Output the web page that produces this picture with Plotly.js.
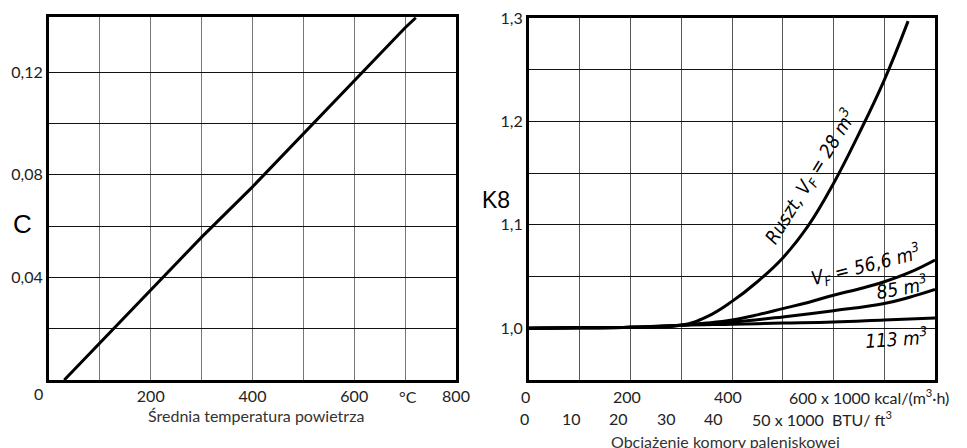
<!DOCTYPE html>
<html><head><meta charset="utf-8">
<script src="https://cdn.plot.ly/plotly-3.0.1.min.js"></script>
<style>html,body{margin:0;padding:0;background:#fff}#chart{width:967px;height:448px}</style>
</head><body><div id="chart"></div>
<script>
// ---- Left chart: C vs mean air temperature ----
const tempC = [30, 100, 200, 300, 400, 500, 600, 700, 721];
const coefC = [0, 0.0144, 0.0353, 0.0557, 0.0753, 0.0961, 0.1169, 0.1373, 0.1412];
const leftXTicks = [100, 200, 300, 400, 500, 600, 700, 800];
const leftXLabels = ['', '200', '', '400', '', '600', '', '800'];
const leftYTicks = [0.02, 0.04, 0.06, 0.08, 0.10, 0.12];
const leftYLabels = ['', '0,04', '', '0,08', '', '0,12'];

// ---- Right chart: K8 vs furnace load ----
const rusztX = [0, 100, 200, 300, 350, 400, 450, 500, 550, 600, 650, 700, 747];
const rusztY = [1.0, 1.0005, 1.001, 1.003, 1.011, 1.026, 1.045, 1.068, 1.099, 1.140, 1.188, 1.240, 1.297];
const v566X = [0, 100, 200, 300, 350, 400, 450, 500, 550, 600, 650, 700, 750, 800];
const v566Y = [1.0, 1.0005, 1.001, 1.003, 1.005, 1.008, 1.013, 1.019, 1.025, 1.032, 1.038, 1.045, 1.054, 1.066];
const v85X = [0, 100, 200, 300, 400, 500, 600, 700, 750, 800];
const v85Y = [1.0, 1.0005, 1.001, 1.003, 1.006, 1.011, 1.017, 1.024, 1.030, 1.0375];
const v113X = [0, 100, 200, 300, 400, 500, 600, 700, 800];
const v113Y = [1.0, 1.0005, 1.001, 1.003, 1.004, 1.005, 1.006, 1.008, 1.010];
const rightXTicks = [0, 100, 200, 300, 400, 500, 600, 700, 800];
const rightYTicks = [1.0, 1.05, 1.1, 1.15, 1.2, 1.25, 1.3];
const rightYLabels = ['1,0', '', '1,1', '', '1,2', '', '1,3'];
const kcalTickVals = [0, 200, 400, 600];
const kcalTickText = ['0', '200', '400', '600 x 1000 kcal/(m<sup>3</sup>·h)'];
const btuTickVals = [0, 10, 20, 30, 40, 50];
const btuTickText = ['0', '10', '20', '30', '40', '50 x 1000  BTU/ ft<sup>3</sup>'];
const curveLabels = ['Ruszt, V<sub>F</sub> = 28 m<sup>3</sup>', 'V<sub>F</sub> = 56,6 m<sup>3</sup>', '85 m<sup>3</sup>', '113 m<sup>3</sup>'];
const curveLabelX = [554, 664, 733, 723];
const curveLabelY = [1.146, 1.061, 1.040, 0.991];

const W = 967, PT = 17, PB = 380, PH = PB - PT;
const px = x => x / W;
const py = y => (PB - y) / PH;

const tickFont = {family: 'Lato, "Open Sans", sans-serif', size: 16, color: '#222'};
const lineStyle = {color: '#000', width: 3, shape: 'spline', smoothing: 1.2};

const traces = [
  {x: tempC, y: coefC, xaxis: 'x', yaxis: 'y', mode: 'lines', line: {color: '#000', width: 3}, hoverinfo: 'skip'},
  {x: rusztX, y: rusztY, xaxis: 'x2', yaxis: 'y2', mode: 'lines', line: lineStyle, hoverinfo: 'skip'},
  {x: v566X, y: v566Y, xaxis: 'x2', yaxis: 'y2', mode: 'lines', line: lineStyle, hoverinfo: 'skip'},
  {x: v85X, y: v85Y, xaxis: 'x2', yaxis: 'y2', mode: 'lines', line: lineStyle, hoverinfo: 'skip'},
  {x: v113X, y: v113Y, xaxis: 'x2', yaxis: 'y2', mode: 'lines', line: lineStyle, hoverinfo: 'skip'}
];

const axisBase = {
  showline: true, mirror: true, linecolor: '#000', linewidth: 3,
  showgrid: true, gridwidth: 1, zeroline: false, ticks: '',
  tickfont: tickFont, fixedrange: true, tickmode: 'array'
};

const annotations = [];
// left axis labels
annotations.push({xref: 'x', yref: 'paper', x: 0, y: py(393), text: '0', showarrow: false, xshift: -11, font: tickFont, xanchor: 'center', yanchor: 'middle'});
annotations.push({xref: 'x', yref: 'paper', x: 705, y: py(397), text: '°C', showarrow: false, font: tickFont, xanchor: 'center', yanchor: 'middle'});
annotations.push({xref: 'paper', yref: 'paper', x: px(256), y: py(415), text: 'Średnia temperatura powietrza', showarrow: false, font: {family: tickFont.family, size: 16, color: '#333'}, xanchor: 'center', yanchor: 'middle'});
annotations.push({xref: 'paper', yref: 'paper', x: px(22), y: py(224), text: 'C', showarrow: false, font: {family: '"Liberation Sans", Arial, sans-serif', size: 26, color: '#000'}, xanchor: 'center', yanchor: 'middle'});
annotations.push({xref: 'paper', yref: 'paper', x: px(496), y: py(200), text: 'K8', showarrow: false, font: {family: '"Liberation Sans", Arial, sans-serif', size: 23, color: '#000'}, xanchor: 'center', yanchor: 'middle'});
// right x labels (kcal row)
kcalTickVals.forEach((v, i) => {
  const last = i === kcalTickVals.length - 1;
  annotations.push({xref: 'x2', yref: 'paper', x: v, y: py(396), text: kcalTickText[i], showarrow: false,
    font: tickFont, xanchor: last ? 'left' : 'center', yanchor: 'middle', xshift: last ? -47 : -4});
});
// right x labels (BTU row, on its own hidden scale)
btuTickVals.forEach((v, i) => {
  const last = i === btuTickVals.length - 1;
  annotations.push({xref: 'x3', yref: 'paper', x: v, y: py(418), text: btuTickText[i], showarrow: false,
    font: tickFont, xanchor: last ? 'left' : 'center', yanchor: 'middle', xshift: last ? -16 : -5});
});
annotations.push({xref: 'paper', yref: 'paper', x: px(725), y: py(430), text: 'Obciążenie komory paleniskowej', showarrow: false, font: {family: tickFont.family, size: 16, color: '#333'}, xanchor: 'center', yanchor: 'top'});
// curve labels
const labelAngles = [-58, -14, -10, -4];
curveLabels.forEach((t, i) => {
  annotations.push({xref: 'x2', yref: 'y2', x: curveLabelX[i], y: curveLabelY[i], text: t, showarrow: false,
    textangle: labelAngles[i], xanchor: 'center', yanchor: 'middle',
    font: {family: '"Liberation Sans Narrow", "DejaVu Sans Condensed", sans-serif', size: 19, color: '#000', style: 'italic'}});
});

const layout = {
  width: 967, height: 448,
  margin: {l: 0, r: 0, t: PT, b: 448 - PB, pad: 0},
  paper_bgcolor: '#fff', plot_bgcolor: '#fff',
  showlegend: false,
  xaxis: Object.assign({}, axisBase, {domain: [px(49), px(456)], range: [0, 800], anchor: 'y',
    tickvals: leftXTicks, ticktext: leftXLabels, gridcolor: '#777'}),
  yaxis: Object.assign({}, axisBase, {domain: [0, 1], range: [0, 0.1415], anchor: 'x',
    tickvals: leftYTicks, ticktext: leftYLabels, gridcolor: '#111'}),
  xaxis2: Object.assign({}, axisBase, {domain: [px(529), px(935)], range: [0, 800], anchor: 'y2',
    tickvals: rightXTicks, showticklabels: false, gridcolor: '#555'}),
  yaxis2: Object.assign({}, axisBase, {domain: [0, 1 - 1 / PH], range: [0.95, 1.3], anchor: 'x2',
    tickvals: rightYTicks, ticktext: rightYLabels, gridcolor: '#111'}),
  xaxis3: {overlaying: 'x2', anchor: 'y2', range: [0, 85.5], visible: false, fixedrange: true},
  annotations: annotations
};

Plotly.newPlot('chart', traces, layout, {staticPlot: true, displayModeBar: false});
</script>
</body></html>
